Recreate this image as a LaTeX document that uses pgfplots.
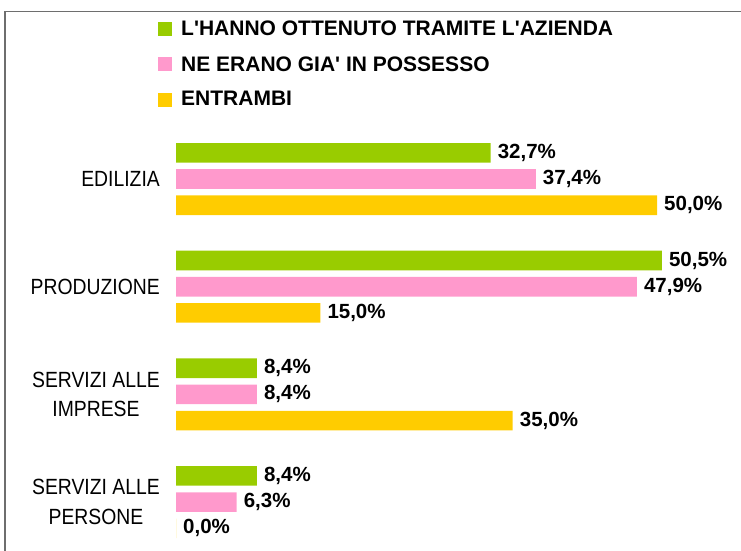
\documentclass[border=0pt]{standalone}
\usepackage{fontspec}
\setmainfont{Liberation Sans}
\newfontfamily\catfont[FakeStretch=0.88]{Liberation Sans}
\usepackage{pgfplots}
\pgfplotsset{compat=1.18}
\definecolor{barGreen}{RGB}{153,204,0}
\definecolor{barPink}{RGB}{255,153,204}
\definecolor{barYellow}{RGB}{255,204,0}
\definecolor{frameGray}{RGB}{110,110,110}

\begin{document}
\begin{tikzpicture}
\useasboundingbox (0pt,0pt) rectangle (741pt,-550pt);
\draw[frameGray, line width=1.3pt] (5pt,-555pt) -- (5pt,-11.5pt) -- (745pt,-11.5pt);
\begin{axis}[
    at={(176pt,-179pt)}, anchor=origin,
    x=9.62pt, y=107.7pt,
    y dir=reverse,
    xbar, bar width=19.6pt,
    xmin=0, xmax=58, ymin=-0.55, ymax=3.5,
    axis line style={draw=none},
    xtick=\empty,
    ytick={0,1,2,3},
    yticklabels={EDILIZIA,PRODUZIONE,{SERVIZI ALLE\\IMPRESE},{SERVIZI ALLE\\PERSONE}},
    major tick length=0pt,
    yticklabel style={align=center, anchor=east, inner sep=0pt, xshift=-16pt,
        font=\catfont\fontsize{22}{29.7}\selectfont},
    clip=false,
    point meta=x,
    nodes near coords={\pgfmathprintnumber{\pgfplotspointmeta}\%},
    /pgf/number format/fixed,
    /pgf/number format/fixed zerofill,
    /pgf/number format/precision=1,
    /pgf/number format/use comma,
    /pgf/number format/assume math mode=true,
    every node near coord/.append style={font=\bfseries\fontsize{20.5}{24}\selectfont,
        inner sep=0pt, xshift=7pt, anchor=west, black},
    legend style={at={(axis cs:-1.87,-1.467)}, anchor=north west, draw=none, fill=none,
        inner sep=0pt, row sep=19pt, nodes={inner sep=0pt},
        font=\bfseries\fontsize{21}{25}\selectfont},
    legend cell align=left,
    legend image code/.code={\fill[#1] (0pt,-7pt) rectangle (14pt,7pt); \path (23pt,0pt);},
]
\addplot[fill=barGreen, draw=none, bar shift=26.2pt] coordinates {
    (32.7,0) (50.5,1) (8.4,2) (8.4,3)
};
\addplot[fill=barPink, draw=none, bar shift=0pt] coordinates {
    (37.4,0) (47.9,1) (8.4,2) (6.3,3)
};
\addplot[fill=barYellow, draw=none, bar shift=-26.2pt] coordinates {
    (50.0,0) (15.0,1) (35.0,2) (0.0,3)
};
\legend{L\textquotesingle HANNO OTTENUTO TRAMITE L\textquotesingle AZIENDA, NE ERANO GIA\textquotesingle\ IN POSSESSO, ENTRAMBI}
\end{axis}
\end{tikzpicture}
\end{document}
